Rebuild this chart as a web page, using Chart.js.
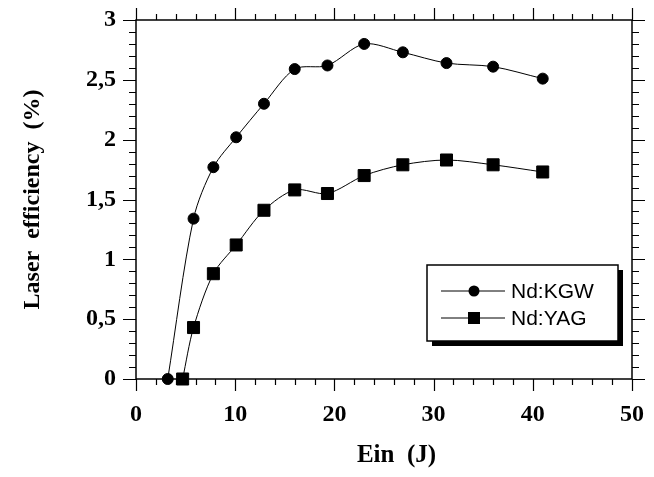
<!DOCTYPE html>
<html>
<head>
<meta charset="utf-8">
<script src="https://cdn.jsdelivr.net/npm/chart.js@4.4.0/dist/chart.umd.min.js"></script>
<style>
  body { margin: 0; background: #fff; }
  canvas { display: block; }
</style>
</head>
<body>
<canvas id="effChart" width="654" height="477"></canvas>
<script>
// values
const kgwEnergy = [3.2, 5.8, 7.8, 10.1, 12.9, 16.0, 19.3, 23.0, 26.9, 31.3, 36.0, 41.0];
const kgwEff    = [0, 1.34, 1.77, 2.02, 2.30, 2.59, 2.62, 2.80, 2.73, 2.64, 2.61, 2.51];
const yagEnergy = [4.7, 5.8, 7.8, 10.1, 12.9, 16.0, 19.3, 23.0, 26.9, 31.3, 36.0, 41.0];
const yagEff    = [0, 0.43, 0.88, 1.12, 1.41, 1.58, 1.55, 1.70, 1.79, 1.83, 1.79, 1.73];
const seriesNames = ['Nd:KGW', 'Nd:YAG'];
const xTicks = [0, 10, 20, 30, 40, 50];
const yTicks = [0, 0.5, 1, 1.5, 2, 2.5, 3];

const serif = "'Liberation Serif', 'Times New Roman', serif";
const sans = "'Liberation Sans', Arial, sans-serif";

function toPoints(xs, ys) {
    return xs.map((x, i) => ({ x: x, y: ys[i] }));
}

// frame with major/minor ticks on all four sides
const frameTicks = {
    id: 'frameTicks',
    afterDatasetsDraw(chart) {
        const ctx = chart.ctx;
        const a = chart.chartArea;
        const xs = chart.scales.x;
        const ys = chart.scales.y;
        ctx.save();
        ctx.strokeStyle = '#000';
        ctx.lineWidth = 1.5;
        ctx.strokeRect(a.left, a.top, a.right - a.left, a.bottom - a.top);
        ctx.lineWidth = 1.2;
        ctx.beginPath();
        for (let v = 0; v <= 50; v += 2) {
            const px = Math.round(xs.getPixelForValue(v)) + 0.5;
            const len = v % 10 === 0 ? 12 : 6;
            ctx.moveTo(px, a.bottom); ctx.lineTo(px, a.bottom + len);
            ctx.moveTo(px, a.top); ctx.lineTo(px, a.top - len);
        }
        for (let i = 0; i <= 30; i++) {
            const py = Math.round(ys.getPixelForValue(i / 10)) + 0.5;
            const len = i % 5 === 0 ? 13 : 7;
            ctx.moveTo(a.left, py); ctx.lineTo(a.left - len, py);
            ctx.moveTo(a.right, py); ctx.lineTo(a.right + len, py);
        }
        ctx.stroke();
        ctx.restore();
    }
};

// boxed legend with drop shadow
const boxLegend = {
    id: 'boxLegend',
    afterDraw(chart) {
        const ctx = chart.ctx;
        const a = chart.chartArea;
        const bx = a.right - 205, by = a.top + 245, bw = 191, bh = 76;
        ctx.save();
        ctx.fillStyle = '#000';
        ctx.fillRect(bx + 5, by + 5, bw, bh);
        ctx.fillStyle = '#fff';
        ctx.fillRect(bx, by, bw, bh);
        ctx.strokeStyle = '#000';
        ctx.lineWidth = 1.5;
        ctx.strokeRect(bx, by, bw, bh);

        chart.data.datasets.forEach((ds, i) => {
            const ly = by + 26 + i * 27;
            ctx.strokeStyle = '#000';
            ctx.lineWidth = 1;
            ctx.beginPath();
            ctx.moveTo(bx + 14, ly);
            ctx.lineTo(bx + 78, ly);
            ctx.stroke();
            ctx.fillStyle = '#000';
            if (ds.pointStyle === 'rect') {
                ctx.fillRect(bx + 47 - 6, ly - 6, 12, 12);
            } else {
                ctx.beginPath();
                ctx.arc(bx + 47, ly, 5.5, 0, Math.PI * 2);
                ctx.fill();
            }
            ctx.font = '21px ' + sans;
            ctx.textBaseline = 'middle';
            ctx.textAlign = 'left';
            ctx.fillText(ds.label, bx + 84, ly + 1);
        });
        ctx.restore();
    }
};

new Chart(document.getElementById('effChart'), {
    type: 'line',
    data: {
        datasets: [
            {
                label: seriesNames[0],
                data: toPoints(kgwEnergy, kgwEff),
                borderColor: '#000',
                backgroundColor: '#000',
                borderWidth: 1,
                pointStyle: 'circle',
                pointRadius: 5.5,
                pointBorderWidth: 1,
                tension: 0.3
            },
            {
                label: seriesNames[1],
                data: toPoints(yagEnergy, yagEff),
                borderColor: '#000',
                backgroundColor: '#000',
                borderWidth: 1,
                pointStyle: 'rect',
                pointRadius: 8.5,
                pointBorderWidth: 1,
                tension: 0.3
            }
        ]
    },
    options: {
        responsive: false,
        devicePixelRatio: 1,
        animation: false,
        clip: false,
        layout: { padding: { left: 0, top: 20, right: 22, bottom: 0 } },
        plugins: {
            legend: { display: false },
            tooltip: { enabled: false }
        },
        scales: {
            x: {
                type: 'linear',
                min: 0,
                max: 50,
                afterBuildTicks: s => { s.ticks = xTicks.map(v => ({ value: v })); },
                afterFit: s => { s.height = 98; s.paddingLeft = 0; s.paddingRight = 0; },
                grid: { display: false, drawTicks: false },
                border: { display: false },
                ticks: {
                    color: '#000',
                    padding: 21,
                    font: { family: serif, size: 24, weight: 'bold' }
                },
                title: {
                    display: true,
                    text: '    Ein  (J)',
                    color: '#000',
                    padding: { top: 0, bottom: 6 },
                    font: { family: serif, size: 25, weight: 'bold' }
                }
            },
            y: {
                type: 'linear',
                min: 0,
                max: 3,
                afterBuildTicks: s => { s.ticks = yTicks.map(v => ({ value: v })); },
                afterFit: s => { s.width = 136; s.paddingTop = 0; s.paddingBottom = 0; },
                grid: { display: false, drawTicks: false },
                border: { display: false },
                ticks: {
                    color: '#000',
                    padding: 20,
                    font: { family: serif, size: 24, weight: 'bold' },
                    callback: v => String(v).replace('.', ',')
                },
                title: {
                    display: true,
                    text: 'Laser  efficiency  (%)',
                    color: '#000',
                    padding: { top: 18, bottom: 0 },
                    font: { family: serif, size: 24, weight: 'bold' }
                }
            }
        }
    },
    plugins: [frameTicks, boxLegend]
});
</script>
</body>
</html>
